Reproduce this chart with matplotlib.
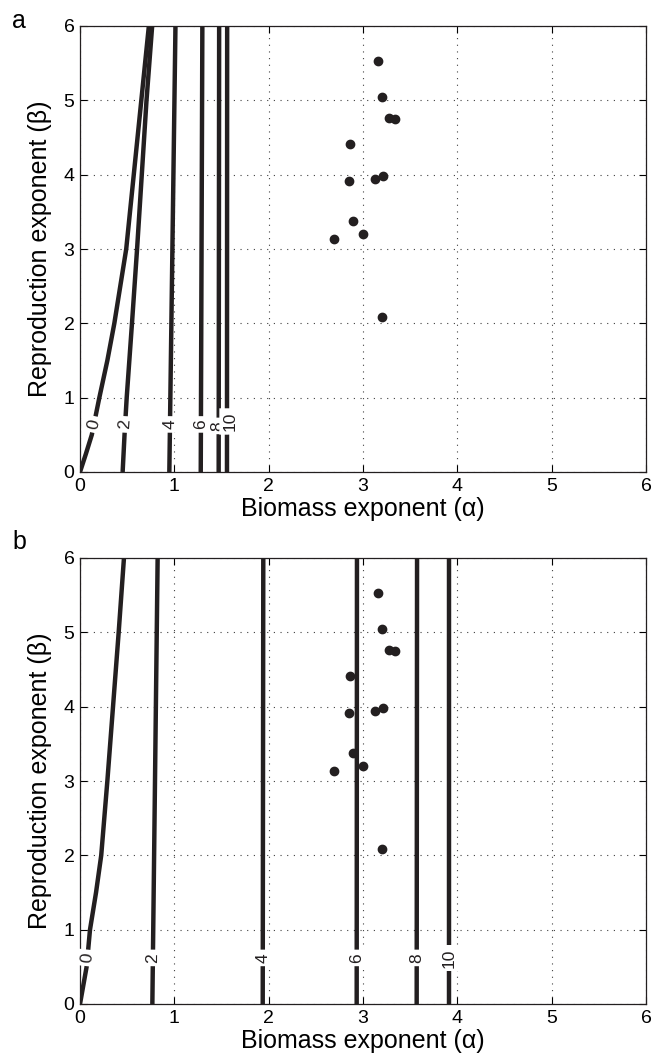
import numpy as np
import matplotlib
matplotlib.use("Agg")
import matplotlib.pyplot as plt

plt.rcParams["font.family"] = ["Liberation Sans", "DejaVu Sans"]

INK = "#231f20"

# Contour levels shown on both panels
levels = [0, 2, 4, 6, 8, 10]

# Beta samples along the curved isolines, and along the near-straight ones
beta_curve = [0, 0.25, 0.5, 1, 1.5, 2, 3, 4, 5, 6]
beta_ends = [0, 6]

# Panel a: alpha position of each isoline
a_level0 = [0, 0.064, 0.125, 0.205, 0.29, 0.364, 0.49, 0.57, 0.65, 0.73]
a_level2 = [0.452, 0.462, 0.472, 0.495, 0.523, 0.551, 0.605, 0.655, 0.705, 0.765]
a_level4 = [0.947, 1.012]
a_level6 = [1.28, 1.297]
a_level8 = [1.47, 1.475]
a_level10 = [1.558, 1.56]

# Panel b: alpha position of each isoline
b_level0 = [0, 0.035, 0.07, 0.106, 0.17, 0.225, 0.29, 0.35, 0.41, 0.466]
b_level2 = [0.767, 0.823]
b_level4 = [1.937, 1.943]
b_level6 = [2.933, 2.936]
b_level8 = [3.569, 3.573]
b_level10 = [3.912, 3.912]

# Observed species exponents
alpha_obs = [3.16, 3.20, 3.28, 3.34, 2.86, 2.855, 3.13, 3.21, 2.89, 3.00, 2.69, 3.20]
beta_obs = [5.53, 5.04, 4.76, 4.75, 4.41, 3.91, 3.94, 3.98, 3.37, 3.20, 3.14, 2.085]

ticks = [0, 1, 2, 3, 4, 5, 6]

W, H = 653, 1057
fig = plt.figure(figsize=(W / 100, H / 100), dpi=100)
ax_a = fig.add_axes([80 / W, 1 - 472 / H, 566 / W, 446 / H])
ax_b = fig.add_axes([80 / W, 1 - 1004 / H, 566 / W, 446 / H])

panel_a = [(beta_curve, a_level0), (beta_curve, a_level2), (beta_ends, a_level4),
           (beta_ends, a_level6), (beta_ends, a_level8), (beta_ends, a_level10)]
panel_b = [(beta_curve, b_level0), (beta_ends, b_level2), (beta_ends, b_level4),
           (beta_ends, b_level6), (beta_ends, b_level8), (beta_ends, b_level10)]


def draw_panel(ax, curves, letter, letter_y, label_beta, label_shift):
    ax.set_xlim(0, 6)
    ax.set_ylim(0, 6)
    ax.set_xticks(ticks)
    ax.set_yticks(ticks)
    ax.grid(True, color="0.25", linestyle=(0, (1, 5)), linewidth=0.8)
    ax.set_axisbelow(True)
    ax.tick_params(direction="in", top=True, right=True, length=5, width=0.8,
                   labelsize=14, pad=4, colors="black")
    for s in ax.spines.values():
        s.set_linewidth(0.9)
        s.set_color(INK)

    for lvl, (bb, aa), (dx, dy) in zip(levels, curves, label_shift):
        ax.plot(aa, bb, color=INK, lw=3.2, solid_capstyle="butt", zorder=3)
        lb = label_beta + dy
        x0 = np.interp(lb, bb, aa)
        p1 = ax.transData.transform((np.interp(lb - 0.2, bb, aa), lb - 0.2))
        p2 = ax.transData.transform((np.interp(lb + 0.2, bb, aa), lb + 0.2))
        ang = np.degrees(np.arctan2(p2[1] - p1[1], p2[0] - p1[0]))
        ax.text(x0 + dx, lb, str(lvl), rotation=ang, rotation_mode="anchor",
                ha="center", va="center", fontsize=12.5, color=INK, zorder=4,
                bbox=dict(facecolor="white", edgecolor="none", pad=2.5))

    ax.plot(alpha_obs, beta_obs, "o", color=INK, markersize=6, zorder=5)

    ax.set_xlabel("Biomass exponent (\u03b1)", fontsize=18, labelpad=2)
    ax.set_ylabel("Reproduction exponent (\u03b2)", fontsize=18)
    ax.yaxis.set_label_coords(-0.05, 0.5)
    fig.text(12 / W, 1 - letter_y / H, letter, fontsize=18, ha="left",
             va="baseline")


# Small label offsets where neighbouring isolines crowd together
shift_a = [(0, 0), (0, 0), (0, 0), (0, 0), (-0.015, -0.02), (0.035, 0.04)]
shift_b = [(0, 0)] * 6

draw_panel(ax_a, panel_a, "a", 28, 0.64, shift_a)
draw_panel(ax_b, panel_b, "b", 549, 0.62, shift_b)

fig.savefig("out.png", dpi=100)
